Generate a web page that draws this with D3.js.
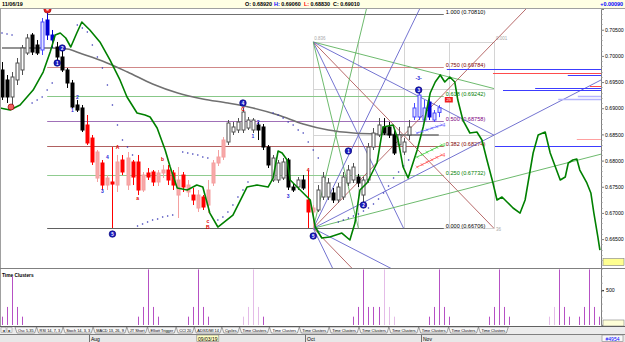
<!DOCTYPE html>
<html>
<head>
<meta charset="utf-8">
<script src="https://cdn.jsdelivr.net/npm/d3@7/dist/d3.min.js"></script>
<style>
  body { margin: 0; background: #fff; }
  svg { display: block; font-family: "Liberation Sans", Arial, sans-serif; }
</style>
</head>
<body>
<svg id="chart" width="625" height="342"></svg>
<script>
// ---- daily bars, 8 Jul 2019 .. 6 Nov 2019 ----
const firstBar = new Date(2019, 6, 8);
const lastBar = new Date(2019, 10, 6);

const opens = [
  .69731,.69540,.69215,.69540,.69731,.70055,.70399,.70208,.70113,.70686,
  .70399,.70170,.69979,.69731,.69482,.69062,.69005,.68680,.68431,.67667,
  .67954,.67533,.67591,.67533,.68011,.67533,.67973,.67973,.67438,.67763,
  .67782,.67591,.67763,.67820,.67763,.67342,.67724,.67400,.67342,.67094,
  .67304,.67151,.67572,.67954,.68068,.68355,.68546,.68584,.68584,.68622,
  .68584,.68680,.68642,.68259,.67629,.67629,.67667,.68011,.67495,.67495,
  .67629,.67247,.67018,.67056,.67304,.67304,.67381,.67247,.67304,.67572,
  .67629,.67686,.67342,.67629,.68259,.68489,.68642,.68642,.68489,.68298,
  .68164,.68489,.68833,.68833,.68775,.69119,.68775,.68920];
const highs = [
  .69883,.69635,.69692,.69960,.70208,.70418,.70437,.70304,.70724,.70839,
  .70495,.70266,.70113,.69769,.69540,.69157,.69062,.68871,.68489,.68202,
  .68011,.67724,.68259,.68107,.68107,.68164,.68011,.68107,.67782,.67858,
  .67820,.67820,.67916,.67916,.67820,.67877,.67782,.67629,.67476,.67438,
  .67342,.67629,.68011,.68202,.68450,.68775,.68737,.68813,.69005,.68833,
  .68813,.68737,.68699,.68298,.68107,.68011,.68049,.68049,.67572,.67686,
  .67724,.67801,.67151,.67533,.67782,.67667,.67476,.67572,.67782,.67916,
  .67954,.67744,.67686,.68336,.68622,.68813,.68813,.68737,.68584,.68642,
  .68431,.68775,.69100,.69291,.69157,.69215,.68966,.69060];
const lows = [
  .69157,.69100,.69024,.69444,.69635,.70017,.70017,.70017,.70017,.70304,
  .70151,.69922,.69692,.69387,.69005,.68928,.68546,.68298,.67916,.67591,
  .67438,.67438,.66712,.67400,.67724,.67438,.67533,.67342,.67400,.67629,
  .67514,.67514,.67667,.67533,.67438,.66903,.67400,.67304,.67151,.67018,
  .67056,.66998,.67514,.67896,.68011,.68298,.68489,.68527,.68527,.68584,
  .68527,.68393,.68202,.67858,.67591,.67572,.67629,.67438,.67400,.67438,
  .67438,.66712,.66706,.67018,.67247,.67247,.67190,.67190,.67247,.67514,
  .67572,.67495,.67113,.67572,.68202,.68450,.68489,.68431,.68107,.68202,
  .68107,.68393,.68775,.68775,.68737,.68775,.68737,.68830];
const closes = [
  .69215,.69215,.69597,.69864,.70151,.70342,.70074,.70055,.70648,.70399,
  .70304,.69979,.69731,.69482,.69024,.68966,.68584,.68336,.67973,.68164,
  .67533,.67667,.67552,.67973,.67782,.68049,.67686,.67438,.67724,.67686,
  .67591,.67763,.67820,.67629,.67533,.67629,.67495,.67533,.67247,.67342,
  .67113,.67438,.67954,.68068,.68393,.68718,.68642,.68737,.68928,.68775,
  .68775,.68584,.68259,.67916,.68049,.67954,.67973,.67495,.67438,.67629,
  .67476,.67018,.67094,.67438,.67686,.67572,.67247,.67495,.67686,.67820,
  .67877,.67572,.67629,.68259,.68527,.68680,.68527,.68489,.68145,.68489,
  .68355,.68642,.69005,.69253,.69005,.68833,.68909,.69010];

// bars painted by the signal colouring
const blueBars = [8, 9, 10, 82, 83, 84, 85, 86, 87];
const redBars = [17,18,19,20,21,22,23,24,25,26,27,28,29,30,31,32,33,34,35,36,37,38,39,40,41,42,43,44,61,62];

// grey moving average
const maIdx = [0, 5, 10, 13, 16, 20, 25, 30, 35, 40, 45, 50, 55, 60, 65, 70, 75, 80, 87];
const maVal = [.70151,.70151,.70151,.70132,.70036,.69903,.69692,.69463,.69291,.69177,
  .69100,.69005,.68871,.68699,.68584,.68527,.68508,.68489,.68489];

// green projection line
const greenIdx = [-0.4,1.6,3.6,6.2,8.2,9.6,10.6,11.6,12.7,13.7,14.9,15.9,17.5,19.5,21.5,23.5,24.9,26.9,28.5,29.5,
  30.9,32.5,33.5,34.9,36.9,38.8,40.0,41.4,43.0,46.0,48.8,50.8,53.0,54.0,55.0,55.8,56.8,57.4,59.4,61.4,
  62.4,63.7,65.3,67.7,69.3,70.3,71.3,72.7,74.7,75.9,77.9,78.9,79.9,80.9,82.7,83.9,85.3,86.3,87.3,88.2,
  89.2,90.2,90.8,91.8,93.2,94.6,95.6,96.6,97.8,98.6,99.6,100.6,101.8,103.2,104.2,105.8,106.8,108.2,109.2,111.2,
  112.2,112.8,113.7,114.5,115.1,116.5,117.3,117.9,118.7,119.1];
const greenVal = [.69005,.68966,.69062,.69348,.69692,.70074,.70399,.70437,.70342,.70170,.70437,.70648,.70495,.70266,.69922,.69540,.69215,.68909,.68871,.68833,
  .68622,.68202,.67877,.67476,.67438,.67533,.67495,.66998,.66731,.66960,.67495,.67533,.67495,.67667,.68183,.68145,.68011,.67629,.67438,.67247,
  .66731,.66521,.66540,.66616,.66483,.66807,.67438,.67572,.67954,.68642,.68680,.68393,.67877,.67667,.68202,.68642,.69291,.69501,.69635,.69501,
  .69597,.69501,.69157,.68775,.68527,.68546,.68393,.68011,.67572,.67247,.67304,.67209,.67094,.66998,.67247,.68145,.68489,.68546,.68145,.67629,
  .67686,.67954,.68011,.68030,.67820,.67572,.67381,.66998,.66540,.66291];
const projectionEnd = 0.66062;

// parabolic SAR dots
const sarIdx = [0,1,2, 6,7,8,9,10, 15,16,17,18,19,20,21,22,23,24,25,26, 27,28,29,30,31,32,33,34,
  36,37,38,39,40,41, 43,44,45,46,47,48,49, 54,55,56,57,58,59,60,61,62,63,
  67,68,69,70,71,72,73,74,75,76,77,78,79,80,81];
const sarVal = [.70437,.70418,.70399, .69100,.69157,.69215,.69348,.69482,
  .70590,.70533,.70457,.70208,.69979,.69769,.69444,.69062,.68680,.68393,.68259,.68107,
  .66750,.66788,.66827,.66865,.66884,.66922,.66941,.66960,
  .68164,.68145,.68126,.68107,.68068,.68049,
  .66865,.66922,.67018,.67151,.67304,.67438,.67591,
  .68909,.68871,.68813,.68737,.68680,.68584,.68527,.68355,.68202,.68049,
  .66827,.66865,.66903,.66941,.66979,.67037,.67094,.67170,.67266,.67381,.67514,.67667,.67782,.67896,.68011];

// Fibonacci retracement
const fibRatios = [1, 0.75, 0.618, 0.5, 0.382, 0.25, 0];
const fibPrices = [0.70810, 0.69784, 0.69242, 0.68758, 0.68274, 0.67732, 0.66706];
const fibStart = 9, fibEnd = 88;

// Gann box
const gannStart = 62, gannEnd = 98, gannLow = 0.66706, gannHigh = 0.70266;

// horizontal levels at the right
const levelPrice = [.69750, .69673, .69635, .69425, .69387, .69348, .69234, .69177, .68412, .68278];
const levelStart = [88.6, 97.8, 112.7, 117.1, 106.2, 99.8, 114.7, 110.8, 114.5, 98.2];
const levelKind = ["blue","red","blue","red","blue","blue","pale","pale","pink","blue"];

// short cross-marked lines
const crossIdx = [82.7, 87.6];
const crossBlue = [.68527, .68680];
const crossGreen = [.68068, .68298];
const crossRed = [.67877, .68107];

// Elliott wave counts
const waveIdx = [11, 12, 22, 48, 69, 72, 83, 62];
const wavePrice = [.69864, .70151, .66597, .69100, .68183, .67151, .69348, .66559];
const waveText = ["1", "2", "5", "4", "1", "2", "3", "5"];

const labelIdx = [15, 14, 21, 20, 51, 50, 57, 83, 61, 23, 27, 32, 41, 41, 48];
const labelPrice = [.69215, .68966, .68068, .67419, .68737, .68470, .67323, .69578, .67820, .68259, .67285, .68030, .66845, .66731, .68985];
const labelText = ["2", "1", "4", "3", "2", "1", "3", "-3-", "4", "A", "a", "b", "c", "B", "C"];
const labelRed = [false,false,false,false,false,false,false,false,true,true,true,true,true,true,true];

// time clusters panel
const clusterIdx = [0,1,2,3,4, 27,28,29,30,31, 37,38,39,40,41, 48,49,50,51,52,
  70,71,72,73,74,75,76,77,78, 85,86,87,88,89, 97,98,99,100,101,
  109,110,111,112,113, 115,116,117,118,119];
const clusterVal = [120,260,700,260,120, 120,260,800,260,120, 120,260,800,260,120, 120,260,800,260,120,
  120,260,800,260,260,260,800,260,120, 120,260,800,260,120, 120,260,800,260,120,
  120,260,800,260,120, 120,260,800,260,120];
const clusterPale = [48, 49, 50, 51, 76, 77, 78, 109, 110];
const clusterCurrent = 33;

const tabNames = ["Osc 5,35", "RSI 14, 7, 3", "Stoch 14, 3, 3", "MACD 13, 26, 9", "JT Short", "Elliott Trigger",
  "CCI 20", "ADX/DMI 14", "Cycles", "Time Clusters", "Time Clusters", "Time Clusters", "Time Clusters",
  "Time Clusters", "Time Clusters", "Time Clusters", "Time Clusters", "Time Clusters"];
const activeTab = 10;
const hoverBar = 41;
const barTotal = 4954;

// ---- drawing ----
const svg = d3.select("#chart");
const plotT = 9, plotB = 268, plotR = 601;
const x = d3.scaleLinear().domain([0, 119]).range([2, 599.4]);
const y = d3.scaleLinear().domain([0.65948, 0.70896]).range([plotB, plotT]);
const yc = d3.scaleLinear().domain([0, 820]).range([325, 268]);
const fmt5 = d3.format(".5f");
const px = i => Math.round(x(i)) + 0.5;

const dates = d3.timeDay.range(firstBar, d3.timeDay.offset(lastBar, 1)).filter(d => d.getDay() % 6 !== 0);

svg.append("rect").attr("width", 625).attr("height", 342).attr("fill", "#fff");

// header strip
const last = opens.length - 1;
svg.append("rect").attr("width", 625).attr("height", 8).attr("fill", "#ffffe4");
svg.append("line").attr("x1", 0).attr("x2", 625).attr("y1", 8.5).attr("y2", 8.5).attr("stroke", "#a0a0a0");
const head = svg.append("g").attr("font-size", 5.4).attr("font-weight", "bold");
head.append("text").attr("x", 2).attr("y", 6).text(d3.timeFormat("%m/%d/%y")(dates[last]));
[["O:", opens[last], 245, "#000"], ["H:", highs[last], 274, "#0000ff"],
 ["L:", lows[last], 304, "#ff0000"], ["C:", closes[last], 333, "#000"]].forEach(([k, v, hx, c]) => {
  const t = head.append("text").attr("x", hx).attr("y", 6);
  t.append("tspan").attr("fill", c).text(k + " ");
  t.append("tspan").text(fmt5(v));
});
head.append("text").attr("x", 623).attr("y", 6).attr("text-anchor", "end").attr("fill", "#0000ff")
  .text(d3.format("+.5f")(closes[last] - opens[last]));

// main plot
svg.append("clipPath").attr("id", "plotClip").append("rect")
  .attr("x", 0).attr("y", plotT).attr("width", plotR).attr("height", plotB - plotT);
const g = svg.append("g").attr("clip-path", "url(#plotClip)");

// gann box grid
const gx = t => x(gannStart + t * (gannEnd - gannStart));
const gy = t => y(gannLow + t * (gannHigh - gannLow));
const grid = g.append("g").attr("stroke", "#d4d4d4").attr("stroke-width", 1);
d3.range(5).forEach(k => {
  grid.append("line").attr("x1", Math.round(gx(k / 4)) + 0.5).attr("x2", Math.round(gx(k / 4)) + 0.5)
    .attr("y1", gy(0)).attr("y2", gy(1));
  grid.append("line").attr("x1", gx(0)).attr("x2", gx(1))
    .attr("y1", Math.round(gy(k / 4)) + 0.5).attr("y2", Math.round(gy(k / 4)) + 0.5);
});
const gannText = g.append("g").attr("font-size", 4.5).attr("fill", "#a8a8a8");
gannText.append("text").attr("x", gx(0) + 1).attr("y", gy(1) - 2).text("0.836");
gannText.append("text").attr("x", gx(1) + 2).attr("y", gy(1) - 2).text("0.001");
gannText.append("text").attr("x", gx(1) + 2).attr("y", gy(0) + 3).text(gannEnd - gannStart);

// fib levels, label sitting on its line
const fibLine = ["#707070", "#d08888", "#88c888", "#a070b8", "#b06060", "#90cc90", "#606060"];
const fibLab = ["#000000", "#800000", "#008000", "#800080", "#800000", "#008000", "#000000"];
fibPrices.forEach((p, k) => {
  const yy = Math.round(y(p)) + 0.5;
  g.append("line").attr("x1", x(fibStart)).attr("x2", x(fibEnd)).attr("y1", yy).attr("y2", yy)
    .attr("stroke", fibLine[k]).attr("stroke-width", 1);
  g.append("text").attr("x", x(fibEnd) + 2).attr("y", yy - 0.3).attr("font-size", 5.6)
    .attr("fill", fibLab[k]).text(`${fibRatios[k].toFixed(3)} (${fmt5(p)})`);
});

// gann fan rays: [from corner (0 low / 1 high), target x frac, target y frac, colour, reach]
const cG = "#5cb25c", cB = "#6464cc", cR = "#b05a5a";
const fans = [
  [1, 1, 0.75, cG, 1], [1, 1, 0.5, cB, 1], [1, 1, 0, cR, 1], [1, 0.5, 0, cB, 1], [1, 0.25, 0, cG, 1],
  [0, 1, 0.25, cG, 4], [0, 1, 0.5, cB, 4], [0, 1, 1, cR, 4], [0, 0.5, 1, cB, 4], [0, 0.25, 1, cG, 4],
  [0, 0.5, -1, cB, 4], [0, 1, -1, cR, 4], [0, 1, -0.5, cB, 4]
];
fans.forEach(([f, tx, ty, c, r]) => {
  const x0 = gx(0), y0 = gy(f);
  g.append("line").attr("x1", x0).attr("y1", y0)
    .attr("x2", x0 + r * (gx(tx) - x0)).attr("y2", y0 + r * (gy(ty) - y0))
    .attr("stroke", c).attr("stroke-width", 0.9);
});

// right-hand levels
const levelColour = {blue: "#3c3cff", red: "#ff4c4c", pale: "#b4b4ff", pink: "#ffa0a0"};
levelPrice.forEach((p, k) => {
  const yy = Math.round(y(p)) + 0.5;
  g.append("line").attr("x1", x(levelStart[k])).attr("x2", plotR).attr("y1", yy).attr("y2", yy)
    .attr("stroke", levelColour[levelKind[k]]).attr("stroke-width", levelKind[k] === "pale" ? 1.5 : 1);
});

// moving average
g.append("path").datum(maIdx.map((d, k) => [d, maVal[k]]))
  .attr("fill", "none").attr("stroke", "#707070").attr("stroke-width", 1.6)
  .attr("d", d3.line().x(d => x(d[0])).y(d => y(d[1])).curve(d3.curveMonotoneX));

// candles
const bars = opens.map((o, i) => ({i, o, h: highs[i], l: lows[i], c: closes[i]}));
function barStyle(d) {
  const up = d.c >= d.o;
  if (blueBars.includes(d.i)) return up ? ["#e4e4ff", "#4848ff"] : ["#0000d0", "#0000d0"];
  if (redBars.includes(d.i)) return up ? ["#f8a8a8", "#f4a0a0"] : ["#ff0000", "#ff0000"];
  return up ? ["#ffffff", "#505050"] : ["#000000", "#000000"];
}
const cg = g.append("g");
cg.selectAll("line").data(bars).join("line")
  .attr("x1", d => px(d.i)).attr("x2", d => px(d.i))
  .attr("y1", d => y(d.h)).attr("y2", d => y(d.l))
  .attr("stroke", d => barStyle(d)[1]);
cg.selectAll("rect").data(bars).join("rect")
  .attr("x", d => px(d.i) - 1.5).attr("width", 3)
  .attr("y", d => y(Math.max(d.o, d.c)))
  .attr("height", d => Math.max(1, Math.abs(y(d.o) - y(d.c))))
  .attr("fill", d => barStyle(d)[0]).attr("stroke", d => barStyle(d)[1]);

// SAR
g.append("g").selectAll("circle").data(sarIdx.map((d, k) => [d, sarVal[k]])).join("circle")
  .attr("cx", d => x(d[0])).attr("cy", d => y(d[1])).attr("r", 0.8).attr("fill", "#3434b4");

// green line
g.append("path").datum(greenIdx.map((d, k) => [d, greenVal[k]]))
  .attr("fill", "none").attr("stroke", "#008000").attr("stroke-width", 1.6).attr("stroke-linejoin", "round")
  .attr("d", d3.line().x(d => x(d[0])).y(d => y(d[1])));

// cross-marked lines
[[crossBlue, "#6060ff"], [crossGreen, "#40d040"], [crossRed, "#ff5050"]].forEach(([vals, c]) => {
  g.append("line").attr("x1", x(crossIdx[0])).attr("x2", x(crossIdx[1]))
    .attr("y1", y(vals[0])).attr("y2", y(vals[1])).attr("stroke", c).attr("stroke-width", 0.8);
  d3.range(0, 1.01, 0.2).forEach(t => {
    const cx = x(crossIdx[0]) + t * (x(crossIdx[1]) - x(crossIdx[0]));
    const cy = y(vals[0]) + t * (y(vals[1]) - y(vals[0]));
    g.append("path").attr("transform", `translate(${cx},${cy})`)
      .attr("d", d3.symbol(d3.symbolX, 6)()).attr("fill", "none").attr("stroke", c).attr("stroke-width", 0.6);
  });
  g.append("text").attr("x", x(crossIdx[1]) + 1).attr("y", y(vals[1]) + 2)
    .attr("font-size", 4.5).attr("fill", c).text("4");
});

// pivot markers
g.append("circle").attr("cx", px(9)).attr("cy", plotT + 0.5).attr("r", 3.6)
  .attr("fill", "#e82020").attr("stroke", "#900000").attr("stroke-width", 0.6);
g.append("circle").attr("cx", px(9)).attr("cy", plotT + 0.5).attr("r", 1.3).attr("fill", "#ffd0d0");
g.append("circle").attr("cx", x(1.8)).attr("cy", y(lows[2])).attr("r", 3)
  .attr("fill", "#f06060").attr("stroke", "#900000").attr("stroke-width", 0.7);

// red target box just under the 0.618 label
const boxY = Math.round(y(fibPrices[2])) + 1;
g.append("rect").attr("x", x(89) - 4).attr("y", boxY).attr("width", 8).attr("height", 5.5)
  .attr("fill", "#f02020");
g.append("text").attr("x", x(89)).attr("y", boxY + 4.4).attr("text-anchor", "middle")
  .attr("font-size", 4.2).attr("fill", "#fff").text("25");

// labels
g.append("g").selectAll("text").data(labelText).join("text")
  .attr("x", (d, k) => x(labelIdx[k])).attr("y", (d, k) => y(labelPrice[k]) + 2)
  .attr("text-anchor", "middle").attr("font-size", 5).attr("font-weight", "bold")
  .attr("fill", (d, k) => labelRed[k] ? "#e00000" : "#2828d8").text(d => d);

const wv = g.append("g").selectAll("g").data(waveText).join("g")
  .attr("transform", (d, k) => `translate(${x(waveIdx[k])},${y(wavePrice[k])})`);
wv.append("circle").attr("r", 3.3).attr("fill", "#1c1cc0").attr("stroke", "#00006a").attr("stroke-width", 0.6);
wv.append("text").attr("y", 1.6).attr("text-anchor", "middle").attr("font-size", 4.5)
  .attr("font-weight", "bold").attr("fill", "#fff").text(d => d);

// price axis
const ax = svg.append("g").attr("transform", `translate(${plotR},0)`);
ax.append("rect").attr("x", 0).attr("y", plotT).attr("width", 24).attr("height", plotB - plotT).attr("fill", "#fff");
ax.call(d3.axisRight(y).tickValues(d3.range(133, 142).map(k => k * 0.005))
  .tickFormat(fmt5).tickSize(3).tickPadding(1));
ax.selectAll("text").attr("font-size", 5.2).attr("font-family", "Liberation Sans, Arial, sans-serif");
ax.select(".domain").attr("stroke", "#808080");
ax.selectAll(".tick line").attr("stroke", "#808080");
ax.append("g").selectAll("line").data(d3.range(660, 709).map(k => k / 1000)).join("line")
  .attr("x1", 0).attr("x2", 1.5).attr("y1", d => Math.round(y(d)) + 0.5).attr("y2", d => Math.round(y(d)) + 0.5)
  .attr("stroke", "#909090");
ax.append("rect").attr("x", 2).attr("y", y(projectionEnd) - 3.5).attr("width", 21).attr("height", 7)
  .attr("fill", "#ffff90").attr("stroke", "#808080").attr("stroke-width", 0.6);
ax.append("text").attr("x", 3).attr("y", y(projectionEnd) + 1.8).attr("font-size", 5).text(fmt5(projectionEnd));

// frame lines
svg.append("line").attr("x1", 0.5).attr("x2", 0.5).attr("y1", plotT).attr("y2", 326).attr("stroke", "#a0a0a0");
svg.append("line").attr("x1", 0).attr("x2", 625).attr("y1", 268.5).attr("y2", 268.5).attr("stroke", "#808080");

// time clusters panel
const tc = svg.append("g");
tc.append("text").attr("x", 2).attr("y", 277).attr("font-size", 4.8).attr("font-weight", "bold").text("Time Clusters");
tc.selectAll("line").data(clusterIdx.map((d, k) => [d, clusterVal[k]])).join("line")
  .attr("x1", d => px(d[0])).attr("x2", d => px(d[0]))
  .attr("y1", yc(0)).attr("y2", d => yc(d[1]))
  .attr("stroke", d => clusterPale.includes(d[0]) ? "#e4bce8" : "#b650c4").attr("stroke-width", 1);
const tax = svg.append("g").attr("transform", `translate(${plotR},0)`);
tax.call(d3.axisRight(yc).tickValues([500]).tickSize(3).tickPadding(2));
tax.selectAll("text").attr("font-size", 5.2).attr("font-family", "Liberation Sans, Arial, sans-serif");
tax.select(".domain").attr("stroke", "#808080");
tax.append("g").selectAll("line").data(d3.range(0, 801, 100)).join("line")
  .attr("x1", 0).attr("x2", 1.5).attr("y1", d => yc(d)).attr("y2", d => yc(d)).attr("stroke", "#909090");
tax.append("rect").attr("x", 2).attr("y", 320).attr("width", 21).attr("height", 6)
  .attr("fill", "#ffffd8").attr("stroke", "#808080").attr("stroke-width", 0.6);
tax.append("text").attr("x", 12.5).attr("y", 324.8).attr("text-anchor", "middle").attr("font-size", 4.8)
  .text(clusterCurrent);

// tabs row
svg.append("rect").attr("x", 0).attr("y", 326).attr("width", 625).attr("height", 8).attr("fill", "#ececec");
svg.append("line").attr("x1", 0).attr("x2", 625).attr("y1", 326.5).attr("y2", 326.5).attr("stroke", "#606060");
["\u25C4", "\u25BA"].forEach((s, k) => {
  svg.append("rect").attr("x", 1 + k * 6).attr("y", 327.5).attr("width", 5).attr("height", 5)
    .attr("fill", "#f4f4f4").attr("stroke", "#909090").attr("stroke-width", 0.5);
  svg.append("text").attr("x", 3.5 + k * 6).attr("y", 331.6).attr("text-anchor", "middle")
    .attr("font-size", 3.6).text(s);
});
let tabX = 15;
tabNames.forEach((name, k) => {
  const tg = svg.append("g");
  const poly = tg.append("path");
  const t = tg.append("text").attr("x", tabX + 3).attr("y", 331.7).attr("font-size", 3.9).text(name);
  const w = t.node().getComputedTextLength() + 6;
  poly.attr("d", `M${tabX},327 L${tabX + w},327 L${tabX + w - 2},333 L${tabX + 2},333 Z`)
    .attr("fill", k === activeTab ? "#ffffff" : "#f6f6f6").attr("stroke", "#505050").attr("stroke-width", 0.5);
  tabX += w;
});

// date row
svg.append("rect").attr("x", 0).attr("y", 334).attr("width", 625).attr("height", 8).attr("fill", "#e8e8e8");
svg.append("line").attr("x1", 0).attr("x2", 625).attr("y1", 334.5).attr("y2", 334.5).attr("stroke", "#808080");
const monthStarts = dates.map((d, i) => i).filter(i => i > 0 && dates[i].getMonth() !== dates[i - 1].getMonth());
monthStarts.forEach(i => {
  const sx = Math.round(x(i)) - 2.5;
  svg.append("line").attr("x1", sx).attr("x2", sx).attr("y1", 335).attr("y2", 342).attr("stroke", "#707070");
  // the hover box hides the month name that falls under it
  if (Math.abs(x(i) - x(hoverBar)) > 16) {
    svg.append("text").attr("x", sx + 1.5).attr("y", 340.8).attr("font-size", 5).text(d3.timeFormat("%b")(dates[i]));
  }
});
svg.append("rect").attr("x", x(hoverBar) - 11).attr("y", 335).attr("width", 22).attr("height", 6.5)
  .attr("fill", "#ffffc4").attr("stroke", "#808080").attr("stroke-width", 0.6);
svg.append("text").attr("x", x(hoverBar)).attr("y", 340.5).attr("text-anchor", "middle").attr("font-size", 5)
  .text(d3.timeFormat("%m/%d/%y")(dates[hoverBar]));
svg.append("rect").attr("x", 602).attr("y", 335).attr("width", 21).attr("height", 6.5)
  .attr("fill", "#f8f8f8").attr("stroke", "#808080").attr("stroke-width", 0.6);
svg.append("text").attr("x", 612.5).attr("y", 340.5).attr("text-anchor", "middle").attr("font-size", 5)
  .attr("fill", "#0000ff").text("#" + barTotal);
</script>
</body>
</html>
